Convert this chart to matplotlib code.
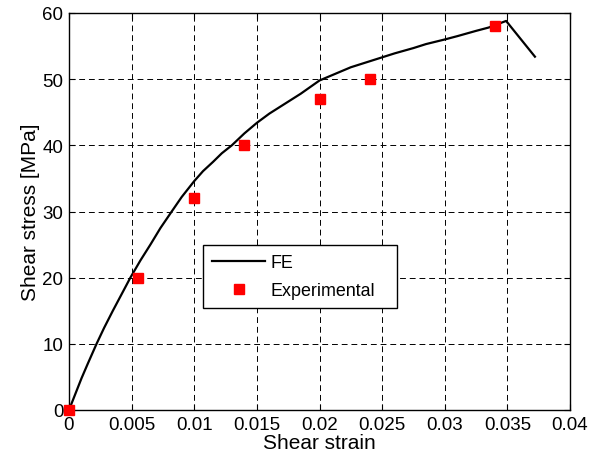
import matplotlib.pyplot as plt
import numpy as np

plt.rcParams['font.family'] = ['Liberation Sans', 'DejaVu Sans']

# FE curve
fe_strain = [0, 0.0005, 0.001, 0.0015, 0.0022, 0.0028, 0.0035, 0.0042, 0.0049,
             0.0057, 0.0065, 0.0073, 0.0082, 0.009, 0.01, 0.0107, 0.0115,
             0.0122, 0.013, 0.014, 0.015, 0.016, 0.0175, 0.0185, 0.02, 0.021,
             0.0225, 0.0235, 0.025, 0.026, 0.0275, 0.0285, 0.03, 0.031,
             0.0325, 0.0335, 0.0349, 0.0372]
fe_stress = [0, 2.4, 4.8, 7.0, 10, 12.4, 15, 17.5, 20, 22.6, 25, 27.5, 30,
             32.2, 34.6, 36.1, 37.5, 38.8, 40, 41.8, 43.4, 44.8, 46.6, 47.8,
             49.8, 50.6, 51.8, 52.4, 53.3, 53.9, 54.7, 55.3, 56.0, 56.5,
             57.3, 57.8, 58.8, 53.4]

# experimental points
exp_strain = [0, 0.0055, 0.01, 0.014, 0.02, 0.024, 0.034]
exp_stress = [0, 20, 32, 40, 47, 50, 58]

xticks = [0, 0.005, 0.01, 0.015, 0.02, 0.025, 0.03, 0.035, 0.04]
xticklabels = ['0', '0.005', '0.01', '0.015', '0.02', '0.025', '0.03', '0.035', '0.04']
yticks = [0, 10, 20, 30, 40, 50, 60]

fig = plt.figure(figsize=(5.98, 4.6), dpi=100)
ax = fig.add_axes([69 / 598, 1 - 411 / 460, 501 / 598, 397 / 460])

ax.plot(fe_strain, fe_stress, '-', color='black', lw=1.6, label='FE')
ax.plot(exp_strain, exp_stress, 's', color='red', ms=6.5, mec='red',
        label='Experimental', clip_on=False, zorder=5)

ax.set_xlim(0, 0.04)
ax.set_ylim(0, 60)
ax.set_xticks(xticks)
ax.set_xticklabels(xticklabels)
ax.set_yticks(yticks)
ax.tick_params(direction='in', labelsize=13.5, length=4, top=True, right=True,
               pad=4)
ax.grid(True, color='black', linestyle=(0, (6, 4)), lw=0.7)
for s in ax.spines.values():
    s.set_linewidth(1.0)

ax.set_xlabel('Shear strain', fontsize=15, labelpad=0)
ax.set_ylabel('Shear stress [MPa]', fontsize=15, labelpad=2)

leg = ax.legend(loc='lower left', bbox_to_anchor=(0.267, 0.257, 0.387, 0.16),
                mode='expand', fontsize=12.9,
                fancybox=False, edgecolor='black', framealpha=1,
                borderpad=0.5, handlelength=3.0, labelspacing=0.62,
                handletextpad=0.3, borderaxespad=0)
leg.get_frame().set_linewidth(1.0)

fig.savefig('out.png', dpi=100)
